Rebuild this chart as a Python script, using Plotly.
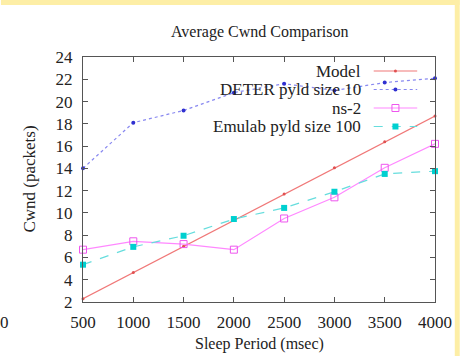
import plotly.graph_objects as go

sleep_ms = [500, 1000, 1500, 2000, 2500, 3000, 3500, 4000]
model = [2.3, 4.65, 7.0, 9.35, 11.7, 14.05, 16.4, 18.7]
deter = [14.0, 18.1, 19.2, 20.8, 21.6, 21.0, 21.7, 22.1]
ns2 = [6.7, 7.45, 7.2, 6.7, 9.5, 11.4, 14.05, 16.2]
emulab = [5.35, 6.95, 7.95, 9.45, 10.45, 11.9, 13.5, 13.75]

series_names = ["Model", "DETER pyld size 10", "ns-2", "Emulab pyld size 100"]
y_ticks = list(range(2, 25, 2))
x_ticks = list(range(500, 4001, 500))

W, H = 464, 356
L, R, T, B = 83, 439, 57, 302
FONT = "Liberation Serif, Times New Roman, serif"


def px(x):
    return (x - L) / (R - L)


def py(y):
    return (B - y) / (B - T)


styles = [
    dict(line=dict(color="#f07878", width=1.2, dash="solid"),
         marker=dict(symbol="circle", size=3, color="#e05050")),
    dict(line=dict(color="#8888f0", width=1.2, dash="dot"),
         marker=dict(symbol="circle", size=4, color="#3030d0")),
    dict(line=dict(color="#ff88ff", width=1.2, dash="solid"),
         marker=dict(symbol="square-open", size=7, color="#ee55ee", line=dict(width=1))),
    dict(line=dict(color="#66dddd", width=1.2, dash="dash"),
         marker=dict(symbol="square", size=6, color="#00d0d0")),
]

fig = go.Figure()
for name, vals, st in zip(series_names, [model, deter, ns2, emulab], styles):
    fig.add_trace(go.Scatter(x=sleep_ms, y=vals, mode="lines+markers", name=name,
                             showlegend=False, cliponaxis=False, **st))

# manual gnuplot-style legend (text right, sample on the right)
rows_y = [71, 89.5, 108, 126.5]
for name, ry, st in zip(series_names, rows_y, styles):
    fig.add_annotation(x=px(366), y=py(ry), xref="paper", yref="paper",
                       text=name, showarrow=False, xanchor="right", yanchor="middle",
                       font=dict(family=FONT, size=17, color="#222"))
    fig.add_trace(go.Scatter(x=[px(377), px(399), px(421)], y=[py(ry)] * 3,
                             xaxis="x2", yaxis="y2", mode="lines",
                             line=st["line"], showlegend=False, hoverinfo="skip"))
    fig.add_trace(go.Scatter(x=[px(399)], y=[py(ry)], xaxis="x2", yaxis="y2",
                             mode="markers", marker=st["marker"], showlegend=False,
                             hoverinfo="skip"))

axis_common = dict(showline=True, linecolor="#555", linewidth=1, mirror="ticks",
                   ticks="inside", ticklen=5, tickcolor="#555", showgrid=False,
                   zeroline=False, tickfont=dict(family=FONT, size=17, color="#222"))

fig.update_layout(
    width=W, height=H,
    margin=dict(l=L, r=W - R, t=T, b=H - B),
    paper_bgcolor="white", plot_bgcolor="white",
    xaxis=dict(range=[500, 4000], tickvals=x_ticks, ticklabelstandoff=5, **axis_common),
    yaxis=dict(range=[2, 24], tickvals=y_ticks, ticklabelstandoff=6, **axis_common),
    xaxis2=dict(range=[0, 1], overlaying="x", visible=False, fixedrange=True),
    yaxis2=dict(range=[0, 1], overlaying="y", visible=False, fixedrange=True),
    showlegend=False,
)

common_ann = dict(xref="paper", yref="paper", showarrow=False, xanchor="center", yanchor="middle")
fig.add_annotation(x=px(261), y=py(32), text="Average Cwnd Comparison",
                   font=dict(family=FONT, size=16, color="#222"), **common_ann)
fig.add_annotation(x=px(261), y=py(344), text="Sleep Period (msec)",
                   font=dict(family=FONT, size=16, color="#222"), **common_ann)
fig.add_annotation(x=px(28), y=py(179), text="Cwnd (packets)", textangle=-90,
                   font=dict(family=FONT, size=17, color="#222"), **common_ann)
fig.add_annotation(x=px(4), y=py(322), text="0",
                   font=dict(family=FONT, size=17, color="#222"), **common_ann)

# pale yellow frame strips
fig.add_shape(type="rect", xref="paper", yref="paper", x0=px(0), x1=px(W), y0=py(0), y1=py(5),
              fillcolor="#fdeea6", line=dict(width=0), layer="above")
fig.add_shape(type="rect", xref="paper", yref="paper", x0=px(459), x1=px(W), y0=py(0), y1=py(H),
              fillcolor="#fdeea6", line=dict(width=0), layer="above")

fig.write_html("out.html")
